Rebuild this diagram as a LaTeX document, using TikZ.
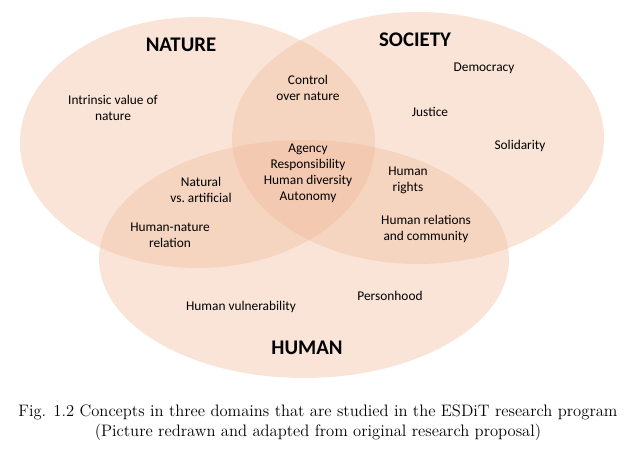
\documentclass[tikz,border=0pt]{standalone}
\usepackage{fontspec}
\newfontfamily\calibri{Carlito}
\definecolor{peach}{RGB}{240,188,156}
\tikzset{
        domainfill/.style={fill=peach, fill opacity=0.4},
        domainlabel/.style={font=\calibri\bfseries\fontsize{14.8}{16}\selectfont},
        conceptlabel/.style={font=\calibri\fontsize{9.5}{11.3}\selectfont, align=center, inner sep=0pt},
        captionline/.style={font=\fontsize{11.8}{14}\selectfont, inner sep=0pt}
}

\begin{document}
\begin{tikzpicture}[x=0.025cm, y=-0.025cm]
        \useasboundingbox (0,0) rectangle (636,453);
        \fill [domainfill] (197.5,142.5) ellipse [x radius=177.5, y radius=125.5];
        \fill [domainfill] (418,138) ellipse [x radius=186, y radius=126];
        \fill [domainfill] (304,259) ellipse [x radius=205, y radius=119];
        \node [domainlabel] (nature) at (181,45) {NATURE};
        \node [domainlabel] (society) at (415,40) {SOCIETY};
        \node [domainlabel] (human) at (307,348) {HUMAN};
        \node [conceptlabel] (intrinsic) at (113,108) {Intrinsic value of\\nature};
        \node [conceptlabel] (control) at (308,88) {Control\\over nature};
        \node [conceptlabel] (democracy) at (484,68) {Democracy};
        \node [conceptlabel] (justice) at (430,112) {Justice};
        \node [conceptlabel] (solidarity) at (520,146) {Solidarity};
        \node [conceptlabel] (agency) at (308,173) {Agency\\Responsibility\\Human diversity\\Autonomy};
        \node [conceptlabel] (natural) at (201,190) {Natural\\vs.\ artificial};
        \node [conceptlabel] (rights) at (408,180) {Human\\rights};
        \node [conceptlabel] (hnrelation) at (170,235) {Human-nature\\relation};
        \node [conceptlabel] (relations) at (426,229) {Human relations\\and community};
        \node [conceptlabel] (vulnerability) at (241,307) {Human vulnerability};
        \node [conceptlabel] (personhood) at (390,296) {Personhood};
        \node [captionline] (caption) at (318,412) {Fig. 1.2 Concepts in three domains that are studied in the ESDiT research program};
        \node [captionline] (source) at (318,432) {(Picture redrawn and adapted from original research proposal)};
\end{tikzpicture}
\end{document}
